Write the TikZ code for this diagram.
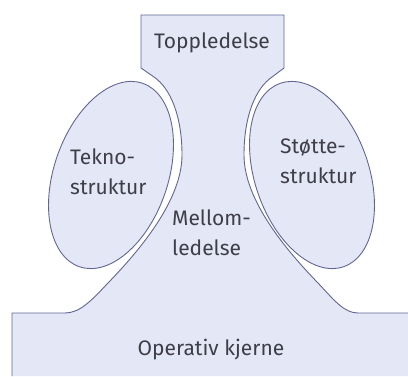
\documentclass[tikz,border=0pt]{standalone}
\usepackage{fontspec}
\setmainfont{Fira Sans}
\usepackage{tikz}
\definecolor{orgfill}{RGB}{228,231,245}
\definecolor{orgline}{RGB}{98,102,150}
\definecolor{orgtext}{RGB}{62,62,72}

\begin{document}
\begin{tikzpicture}[
  x=1pt, y=-1pt,
  font=\fontsize{21}{30}\selectfont,
  part/.style={draw=orgline, line width=0.9pt, fill=orgfill},
  edge/.style={draw=orgline, line width=0.9pt},
  lbl/.style={inner sep=0pt, text=orgtext, align=left}
]
\useasboundingbox (0,0) rectangle (408,376);
% body: top apex, middle line and operating core
\fill[orgfill] (12,376) -- (12,313) -- (65,313)
  .. controls (80,313) and (92,300) .. (108,283)
  .. controls (140,250) and (182,200) .. (182,155)
  .. controls (182,115) and (170,88) .. (154,77)
  -- (141,68) -- (141,15) -- (284,15) -- (284,68) -- (272,77)
  .. controls (256,88) and (244,115) .. (244,155)
  .. controls (244,200) and (286,250) .. (318,283)
  .. controls (334,300) and (344,313) .. (358,313)
  -- (408,313) -- (408,376) -- cycle;
\draw[edge] (12,376) -- (12,313) -- (65,313)
  .. controls (80,313) and (92,300) .. (108,283)
  .. controls (140,250) and (182,200) .. (182,155)
  .. controls (182,115) and (170,88) .. (154,77)
  -- (141,68) -- (141,15) -- (284,15) -- (284,68) -- (272,77)
  .. controls (256,88) and (244,115) .. (244,155)
  .. controls (244,200) and (286,250) .. (318,283)
  .. controls (334,300) and (344,313) .. (358,313)
  -- (408,313);
% staff parts
\draw[part, rotate around={71:(111,175)}] (111,175) ellipse [x radius=97, y radius=57];
\draw[part, rotate around={109:(312,175)}] (312,175) ellipse [x radius=97, y radius=57];
\node[lbl, anchor=base] (top) at (212,48) {Toppledelse};
\node[lbl, anchor=north west] (tekno) at (70,149) {Tekno-\\struktur};
\node[lbl, anchor=north west] (stotte) at (280,139) {Støtte-\\struktur};
\node[lbl, anchor=north west] (mellom) at (172,210) {Mellom-\\ledelse};
\node[lbl, anchor=base] (kjerne) at (211,355) {Operativ kjerne};
\end{tikzpicture}
\end{document}
